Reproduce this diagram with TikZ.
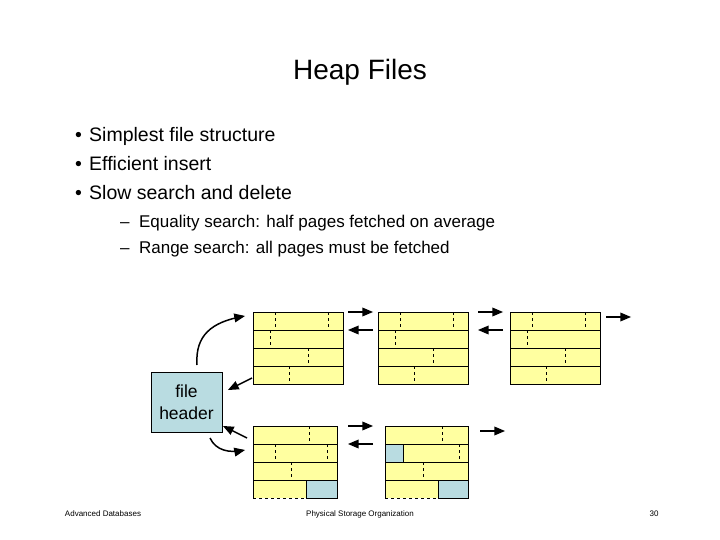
\documentclass[tikz,border=0pt]{standalone}
\usepackage{fontspec}
\setmainfont{Liberation Sans}
\usetikzlibrary{arrows,positioning}

\definecolor{pageyellow}{RGB}{255,255,160}
\definecolor{headblue}{RGB}{185,220,225}

\begin{document}
\begin{tikzpicture}
[
	            x = 1pt, y = -1pt,
	           >= triangle 45,
	  page/.style = { draw=black, fill=pageyellow, line width=0.8pt },
	  cell/.style = { draw=black, fill=headblue, line width=0.8pt },
	  slot/.style = { draw=black, dashed, line width=0.7pt },
	  link/.style = { ->, draw=black, line width=1.5pt },
	header/.style = { draw=black, fill=headblue, minimum width=71pt, minimum height=60pt,
	                  inner sep=0pt, align=center, font=\fontsize{17.5}{22}\selectfont },
	bullet/.style = { anchor=base west, inner sep=0pt, font=\fontsize{19.5}{22}\selectfont },
	   sub/.style = { anchor=base west, inner sep=0pt, font=\fontsize{17}{20}\selectfont },
	  foot/.style = { anchor=base, inner sep=0pt, font=\fontsize{8}{9}\selectfont }
]

    \useasboundingbox (0,0) rectangle (720,540);

    % title and text
    \node (title) at (360,80) [anchor=base, font=\fontsize{28}{32}\selectfont] {Heap Files};

    \foreach \y/\t [count=\i] in {142/Simplest file structure, 171/Efficient insert, 200/Slow search and delete}
    {
        \node (bul\i) at (75,\y) [bullet] {\textbullet};
        \node (item\i) at (89,\y) [bullet] {\t};
    }
    \node (sub1) at (120,227) [sub] {-- \ Equality search: half pages fetched on average};
    \node (sub2) at (120,253) [sub] {-- \ Range search: all pages must be fetched};

    % full pages
    \foreach \x [count=\i] in {253,378,510}
    {
        \draw[page] (\x,312) rectangle +(90,72);
        \draw[page] (\x,330) -- +(90,0) (\x,348) -- +(90,0) (\x,366) -- +(90,0);
        \draw[slot] (\x+22,312) -- +(0,18) (\x+75,312) -- +(0,18);
        \draw[slot] (\x+17,330) -- +(0,18);
        \draw[slot] (\x+55,348) -- +(0,18);
        \draw[slot] (\x+36,366) -- +(0,18);
    }

    % pages with free space
    \fill[pageyellow] (253,426) rectangle (337,498);
    \draw[cell] (306,480) rectangle (337,498);
    \draw[page, fill=none] (253,498) -- (253,426) -- (337,426) -- (337,498);
    \draw[page] (253,444) -- +(84,0) (253,462) -- +(84,0) (253,480) -- +(84,0);
    \draw[slot] (253,498) -- (306,498);
    \draw[slot] (309,426) -- +(0,18) (275,444) -- +(0,18) (327,444) -- +(0,18);
    \draw[slot] (291,462) -- +(0,18) (306,480) -- +(0,18);

    \fill[pageyellow] (385,426) rectangle (468,498);
    \draw[cell] (385,444) rectangle (403,462);
    \draw[cell] (438,480) rectangle (468,498);
    \draw[page, fill=none] (385,498) -- (385,426) -- (468,426) -- (468,498);
    \draw[page] (385,444) -- +(83,0) (385,462) -- +(83,0) (385,480) -- +(83,0);
    \draw[slot] (385,498) -- (438,498);
    \draw[slot] (442,426) -- +(0,18) (459,444) -- +(0,18);
    \draw[slot] (423,462) -- +(0,18) (438,480) -- +(0,18);

    % file header
    \node (head) at (186.5,402) [header] {file\\header};

    % links between pages
    \coordinate (r1a) at (348,312);  \coordinate (r1b) at (373,312);
    \coordinate (l1a) at (373,330);  \coordinate (l1b) at (348,330);
    \coordinate (r2a) at (478,312);  \coordinate (r2b) at (503,312);
    \coordinate (l2a) at (503,330);  \coordinate (l2b) at (478,330);
    \coordinate (r3a) at (606,317);  \coordinate (r3b) at (631,317);
    \coordinate (r4a) at (348,426);  \coordinate (r4b) at (373,426);
    \coordinate (l4a) at (373,444);  \coordinate (l4b) at (348,444);
    \coordinate (r5a) at (480,431);  \coordinate (r5b) at (505,431);

    \foreach \a/\b in {r1a/r1b, l1a/l1b, r2a/r2b, l2a/l2b, r3a/r3b, r4a/r4b, l4a/l4b, r5a/r5b}
        \draw[link] (\a) -- (\b);

    % links from and to the header
    \coordinate (headtop) at (197,365);
    \coordinate (full) at (245,316);
    \coordinate (fullback) at (252,378);
    \coordinate (headin) at (228,390);
    \coordinate (freeback) at (247,438);
    \coordinate (headin2) at (223,426);
    \coordinate (headbot) at (210,438);
    \coordinate (free) at (245,450);

    \draw[link] (headtop) .. controls (195,335) and (212,322) .. (full);
    \draw[link] (fullback) -- (headin);
    \draw[link] (freeback) -- (headin2);
    \draw[link] (headbot) .. controls (216,451) and (230,453) .. (free);

    % footer
    \node (footL) at (103,516) [foot] {Advanced Databases};
    \node (footC) at (360,516) [foot] {Physical Storage Organization};
    \node (footR) at (654,516) [foot] {30};

\end{tikzpicture}
\end{document}
